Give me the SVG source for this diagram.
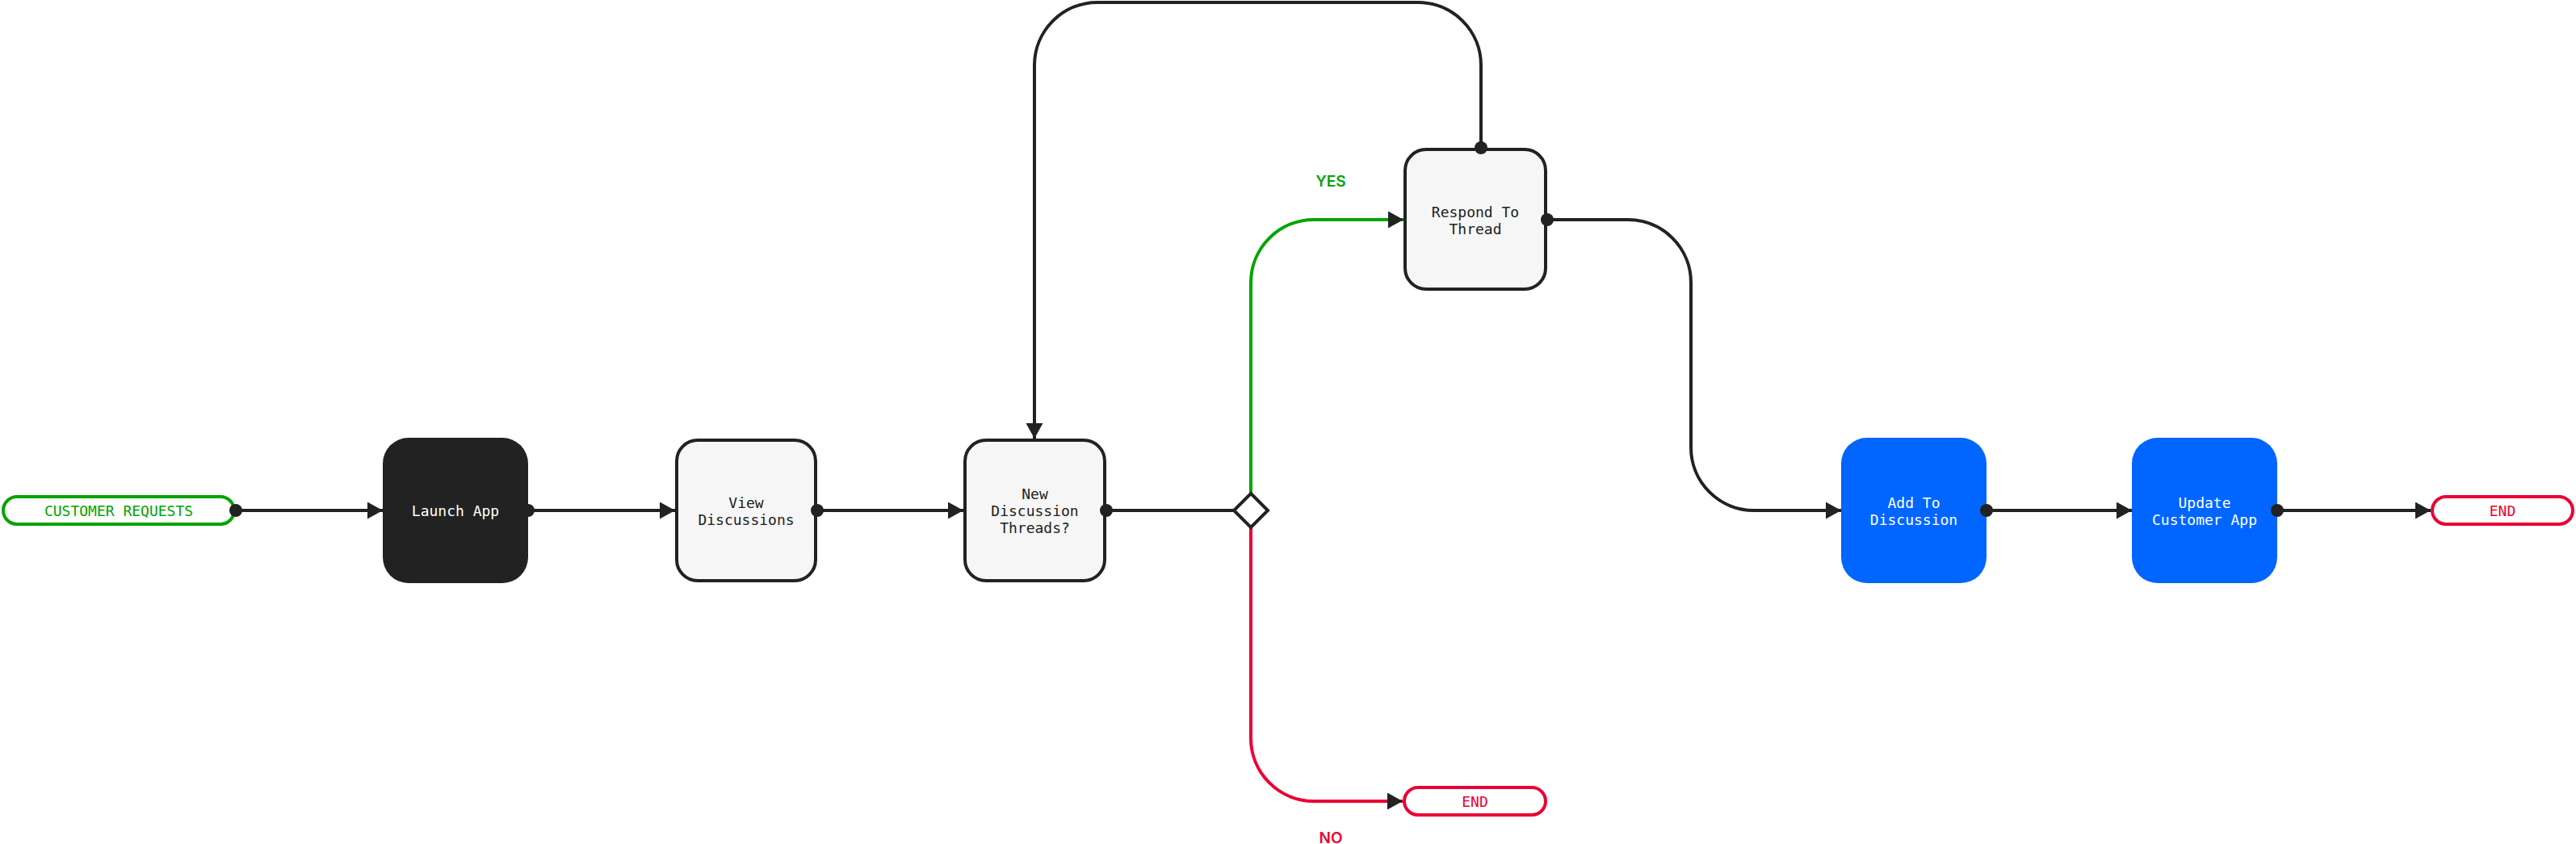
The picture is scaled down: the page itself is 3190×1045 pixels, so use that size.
<svg xmlns="http://www.w3.org/2000/svg" width="3190" height="1045" viewBox="0 0 3190 1045">
<style>
.bg{fill:#FFFFFF}
.wire{fill:none;stroke:#222222;stroke-width:4}
.wire.g{stroke:#00A400}
.wire.r{stroke:#EB0033}
.dot{fill:#222222}
.box{fill:#F6F6F6;stroke:#222222;stroke-width:4}
.dark{fill:#222222}
.blue{fill:#0066FF}
.pill{fill:#FFFFFF;stroke-width:4}
.t{font-family:"DejaVu Sans Mono","Liberation Mono",monospace;font-size:18px;text-anchor:middle;dominant-baseline:central}
.tw{fill:#FFFFFF}
.tk{fill:#222222}
.lbl{font-family:Inter,"Liberation Sans",sans-serif;font-size:19px;font-weight:600;text-anchor:middle;dominant-baseline:central}
</style>
<defs>
<marker id="arr" markerUnits="userSpaceOnUse" markerWidth="19" markerHeight="21" refX="19" refY="10.5" orient="auto">
<path d="M0,0 L19,10.5 L0,21 Z" fill="#222222"/>
</marker>
</defs>
<rect class="bg" x="0" y="0" width="3190" height="1045"/>

<g id="connectors">
<path class="wire" d="M292 632 H474" marker-end="url(#arr)"/>
<path class="wire" d="M654 632 H836" marker-end="url(#arr)"/>
<path class="wire" d="M1012 632 H1193" marker-end="url(#arr)"/>
<path class="wire" d="M1370 632 H1528"/>
<path class="wire g" d="M1549 611 V350 A78 78 0 0 1 1627 272 H1738" marker-end="url(#arr)"/>
<path class="wire r" d="M1549 653 V914 A78 78 0 0 0 1627 992 H1737" marker-end="url(#arr)"/>
<path class="wire" d="M1834 183 V81 A78 78 0 0 0 1756 3 H1359 A78 78 0 0 0 1281 81 V543" marker-end="url(#arr)"/>
<path class="wire" d="M1916 272 H2016 A78 78 0 0 1 2094 350 V554 A78 78 0 0 0 2172 632 H2280" marker-end="url(#arr)"/>
<path class="wire" d="M2460 632 H2640" marker-end="url(#arr)"/>
<path class="wire" d="M2820 632 H3010" marker-end="url(#arr)"/>
<text class="lbl" x="1648" y="224" fill="#00A400">YES</text>
<text class="lbl" x="1648" y="1037" fill="#EB0033">NO</text>
</g>

<g id="customer-requests">
<rect class="pill" x="4" y="615" width="286" height="34" rx="17" stroke="#00A400"/>
<text class="t" x="147" y="632" fill="#00A400">CUSTOMER REQUESTS</text>
</g>

<g id="launch-app">
<rect class="dark" x="474" y="542" width="180" height="180" rx="32"/>
<text class="t tw" x="564" y="632">Launch App</text>
</g>

<g id="view-discussions">
<rect class="box" x="838" y="545" width="172" height="174" rx="26"/>
<text class="t tk" x="924" y="622">View</text>
<text class="t tk" x="924" y="643">Discussions</text>
</g>

<g id="new-discussion-threads">
<rect class="box" x="1195" y="545" width="173" height="174" rx="26"/>
<text class="t tk" x="1281.5" y="611">New</text>
<text class="t tk" x="1281.5" y="632">Discussion</text>
<text class="t tk" x="1281.5" y="653">Threads?</text>
</g>

<g id="decision">
<polygon points="1549,611 1570,632 1549,653 1528,632" fill="#FFFFFF" stroke="#222222" stroke-width="4"/>
</g>

<g id="respond-to-thread">
<rect class="box" x="1740" y="185" width="174" height="173" rx="26"/>
<text class="t tk" x="1827" y="262">Respond To</text>
<text class="t tk" x="1827" y="283">Thread</text>
</g>

<g id="end-no">
<rect class="pill" x="1739" y="975" width="175" height="34" rx="17" stroke="#EB0033"/>
<text class="t" x="1826.5" y="992" fill="#EB0033">END</text>
</g>

<g id="add-to-discussion">
<rect class="blue" x="2280" y="542" width="180" height="180" rx="32"/>
<text class="t tw" x="2370" y="622">Add To</text>
<text class="t tw" x="2370" y="643">Discussion</text>
</g>

<g id="update-customer-app">
<rect class="blue" x="2640" y="542" width="180" height="180" rx="32"/>
<text class="t tw" x="2730" y="622">Update</text>
<text class="t tw" x="2730" y="643">Customer App</text>
</g>

<g id="end">
<rect class="pill" x="3012" y="615" width="174" height="34" rx="17" stroke="#EB0033"/>
<text class="t" x="3099" y="632" fill="#EB0033">END</text>
</g>

<g id="ports">
<circle class="dot" cx="292" cy="632" r="8"/>
<circle class="dot" cx="654" cy="632" r="8"/>
<circle class="dot" cx="1012" cy="632" r="8"/>
<circle class="dot" cx="1370" cy="632" r="8"/>
<circle class="dot" cx="1834" cy="183" r="8"/>
<circle class="dot" cx="1916" cy="272" r="8"/>
<circle class="dot" cx="2460" cy="632" r="8"/>
<circle class="dot" cx="2820" cy="632" r="8"/>
</g>
</svg>
